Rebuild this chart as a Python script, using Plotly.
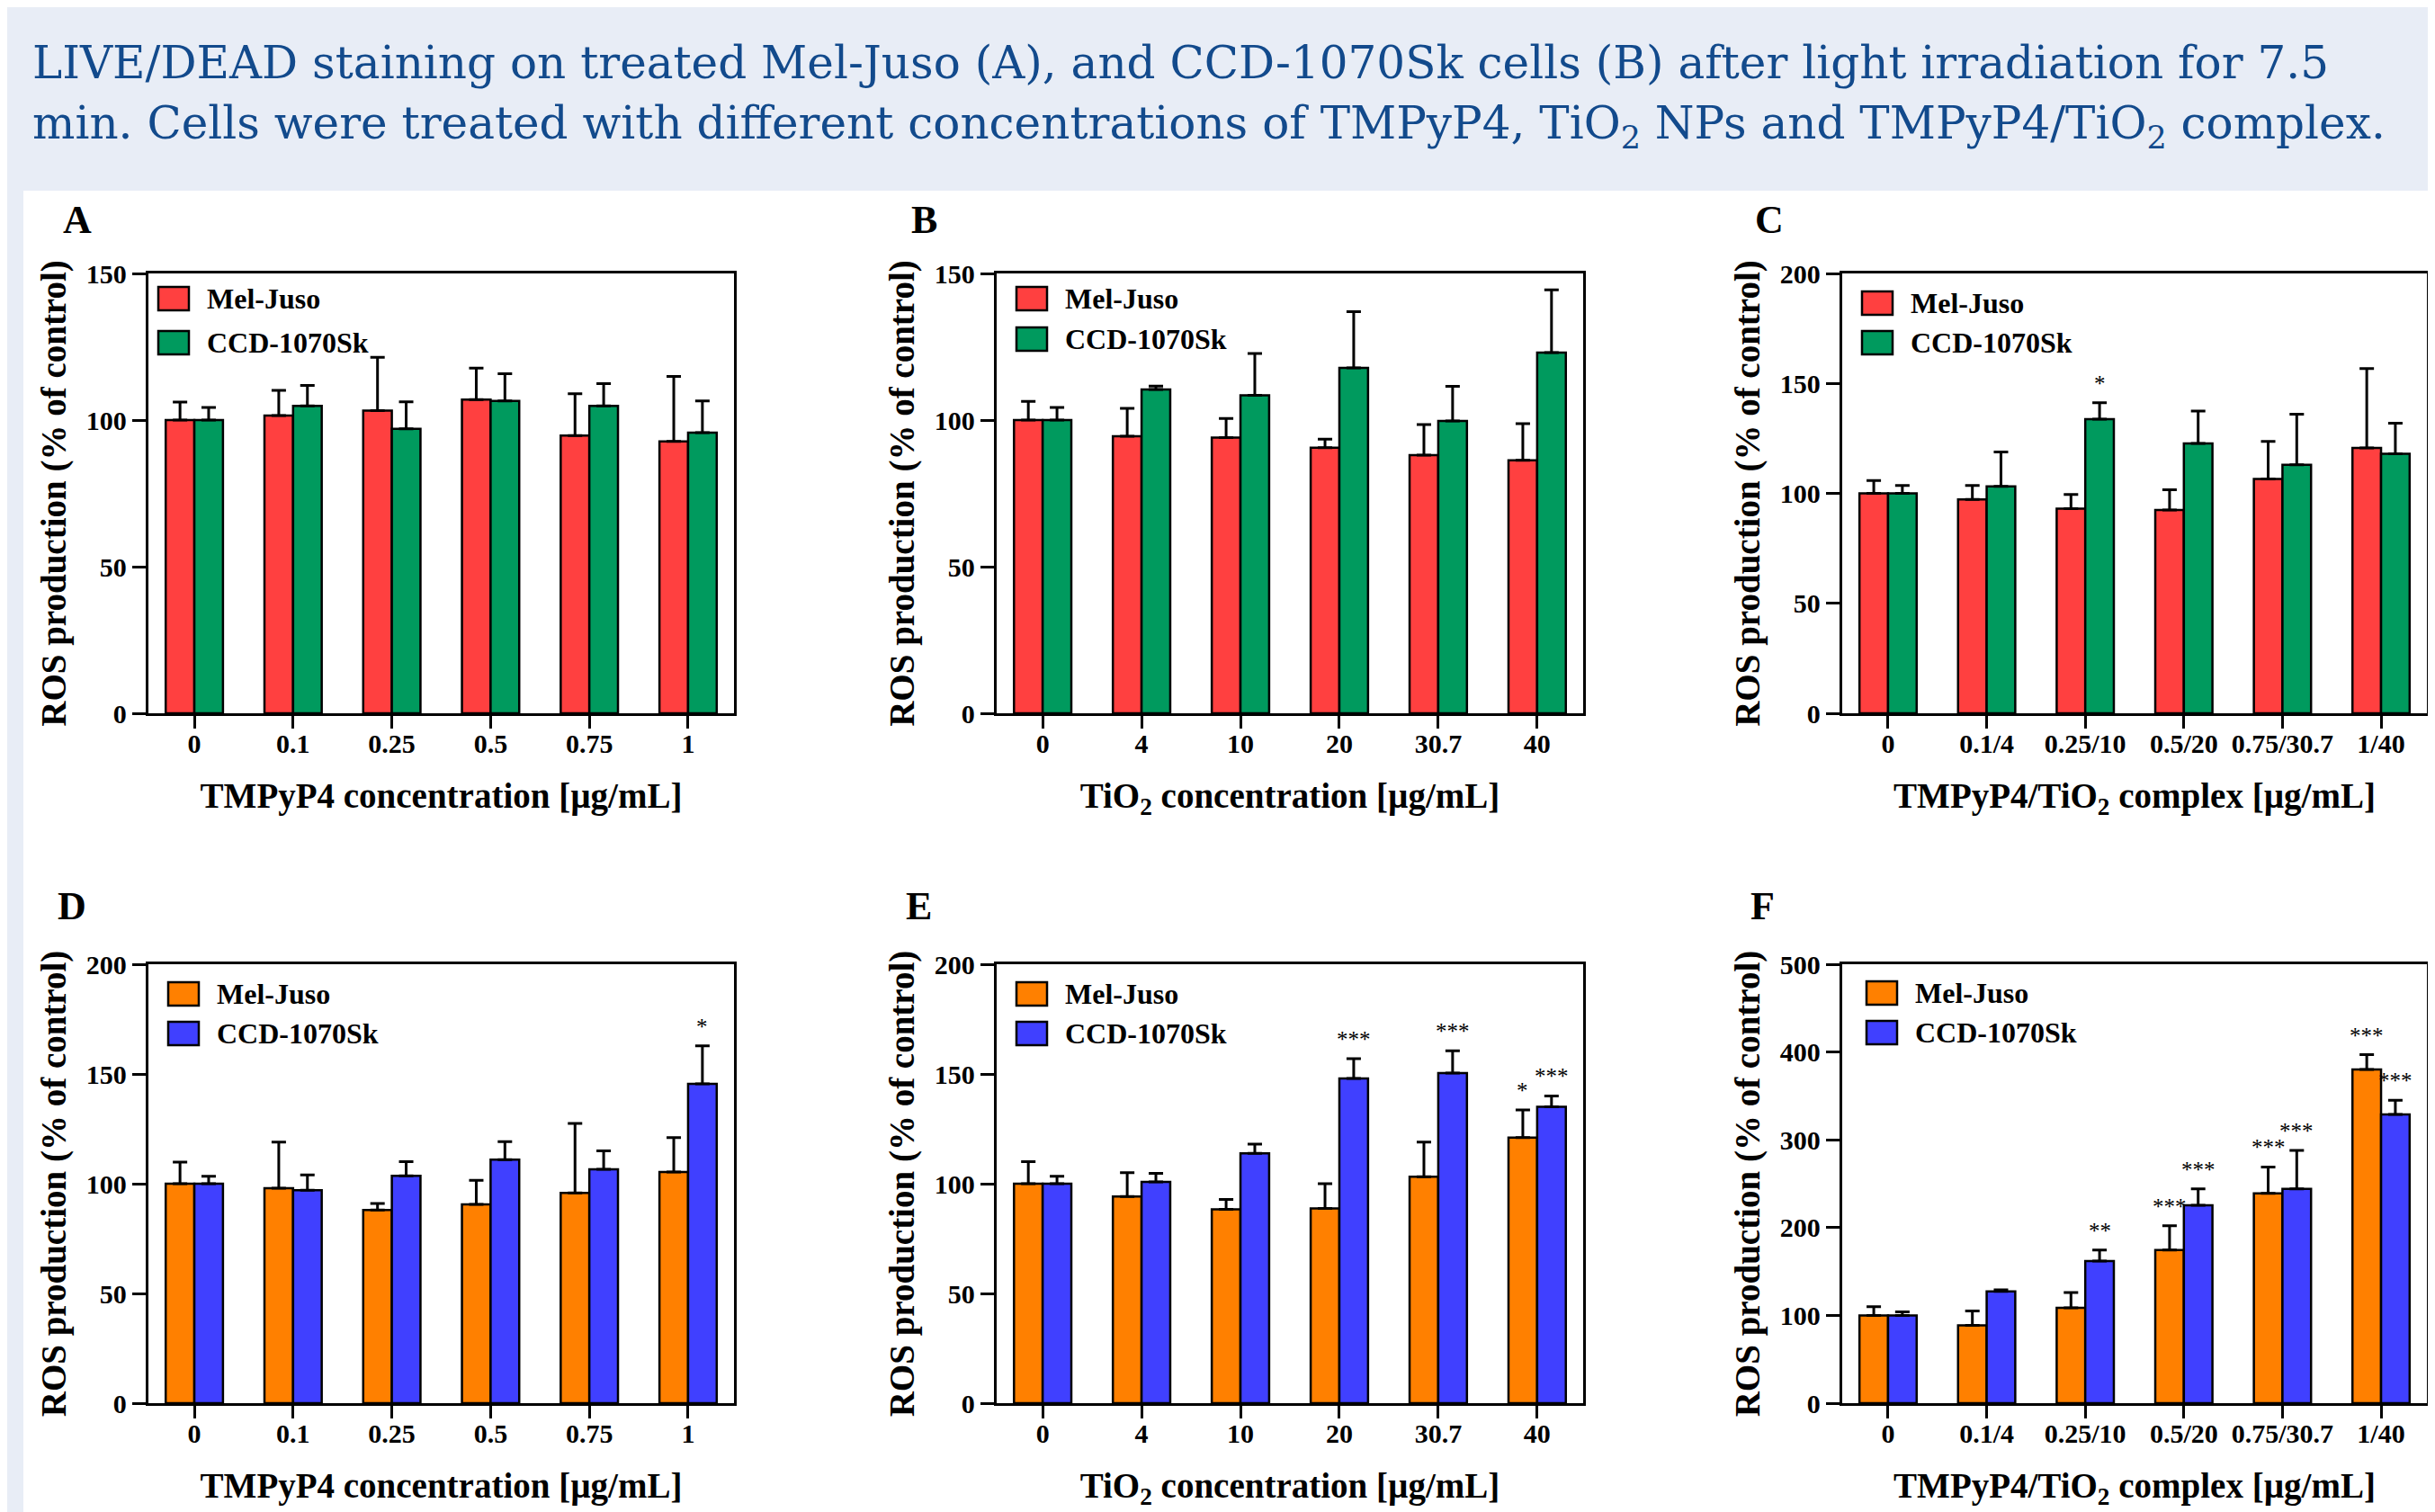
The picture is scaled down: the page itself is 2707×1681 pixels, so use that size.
import plotly.graph_objects as go

W, H = 2707, 1681

# ---------------- data ----------------
cats_tmpyp = ["0", "0.1", "0.25", "0.5", "0.75", "1"]
cats_tio2 = ["0", "4", "10", "20", "30.7", "40"]
cats_complex = ["0", "0.1/4", "0.25/10", "0.5/20", "0.75/30.7", "1/40"]

series_names = ["Mel-Juso", "CCD-1070Sk"]

# Panel A (TMPyP4, dark)
mel_A = [100, 101.5, 103.2, 107.0, 94.7, 92.7]
mel_A_sd = [6.1, 8.6, 18.2, 10.7, 14.3, 22.2]
ccd_A = [100, 104.8, 97.0, 106.5, 104.8, 95.7]
ccd_A_sd = [4.3, 7.0, 9.2, 9.3, 7.6, 10.8]
mel_A_sig = ["", "", "", "", "", ""]
ccd_A_sig = ["", "", "", "", "", ""]

# Panel B (TiO2, dark)
mel_B = [100, 94.5, 94.0, 90.6, 88.0, 86.3]
mel_B_sd = [6.4, 9.5, 6.5, 2.9, 10.5, 12.5]
ccd_B = [100, 110.4, 108.4, 117.8, 99.7, 123.0]
ccd_B_sd = [4.3, 1.2, 14.3, 19.2, 11.8, 21.4]
mel_B_sig = ["", "", "", "", "", ""]
ccd_B_sig = ["", "", "", "", "", ""]

# Panel C (complex, dark)
mel_C = [100, 97.2, 93.0, 92.4, 106.5, 120.7]
mel_C_sd = [5.8, 6.4, 6.5, 9.2, 17.1, 36.0]
ccd_C = [100, 103.2, 133.7, 122.7, 113.0, 118.0]
ccd_C_sd = [3.6, 15.6, 7.5, 14.7, 23.0, 13.9]
mel_C_sig = ["", "", "", "", "", ""]
ccd_C_sig = ["", "", "*", "", "", ""]

# Panel D (TMPyP4, light)
mel_D = [100, 98.0, 88.0, 90.6, 95.8, 105.3]
mel_D_sd = [9.8, 21.0, 3.0, 10.9, 31.7, 15.7]
ccd_D = [100, 97.0, 103.6, 111.0, 106.6, 145.5]
ccd_D_sd = [3.4, 7.0, 6.4, 8.2, 8.4, 17.3]
mel_D_sig = ["", "", "", "", "", ""]
ccd_D_sig = ["", "", "", "", "", "*"]

# Panel E (TiO2, light)
mel_E = [100, 94.2, 88.3, 88.7, 103.2, 121.0]
mel_E_sd = [10.0, 10.8, 4.5, 11.3, 15.8, 12.6]
ccd_E = [100, 100.8, 113.8, 148.0, 150.4, 135.0]
ccd_E_sd = [3.4, 3.9, 4.2, 9.0, 10.2, 5.0]
mel_E_sig = ["", "", "", "", "", "*"]
ccd_E_sig = ["", "", "", "***", "***", "***"]

# Panel F (complex, light)
mel_F = [100, 88.7, 108.5, 174.5, 239.0, 380.0]
mel_F_sd = [10.0, 16.3, 17.5, 27.5, 30.0, 17.0]
ccd_F = [100, 127.4, 161.8, 225.5, 244.0, 329.0]
ccd_F_sd = [4.0, 1.6, 12.7, 18.5, 44.0, 16.0]
mel_F_sig = ["", "", "", "***", "***", "***"]
ccd_F_sig = ["", "", "**", "***", "***", "***"]

y_max = {"A": 150, "B": 150, "C": 200, "D": 200, "E": 200, "F": 500}
y_dtick = {"A": 50, "B": 50, "C": 50, "D": 50, "E": 50, "F": 100}

x_titles = {
    "tmpyp": "TMPyP4 concentration [µg/mL]",
    "tio2": "TiO<sub>2</sub> concentration [µg/mL]",
    "complex": "TMPyP4/TiO<sub>2</sub> complex [µg/mL]",
}
y_title = "ROS production (% of control)"
title_line1 = "LIVE/DEAD staining on treated Mel-Juso (A), and CCD-1070Sk cells (B) after light irradiation for 7.5"
title_line2 = "min. Cells were treated with different concentrations of TMPyP4, TiO<sub>2</sub> NPs and TMPyP4/TiO<sub>2</sub> complex."

# ---------------- styling ----------------
RED, GREEN = "#ff4040", "#009a5e"
ORANGE, BLUE = "#ff8000", "#4040ff"
SERIF = "Liberation Serif"
BG = "#e8edf6"
TITLE_COLOR = "#124a8c"

# panel boxes in pixels (left, top, right, bottom)
boxes = {
    "A": (157, 296, 808, 785),
    "B": (1100, 296, 1752, 785),
    "C": (2040, 296, 2690, 785),
    "D": (157, 1064, 808, 1552),
    "E": (1100, 1064, 1752, 1552),
    "F": (2040, 1064, 2690, 1552),
}
letter_pos = {"A": (78, 236), "B": (1019, 236), "C": (1959, 236),
              "D": (72, 1000), "E": (1013, 1000), "F": (1951, 1000)}
# legend placement: (offset from left axis, offset from top axis, row spacing) in px
legend_off = {"A": (11, 15, 49), "B": (22, 15, 45), "C": (22, 20, 44),
              "D": (22, 20, 44), "E": (22, 20, 44), "F": (27, 19, 44)}

panels = [
    ("A", cats_tmpyp, "tmpyp", (mel_A, mel_A_sd, mel_A_sig), (ccd_A, ccd_A_sd, ccd_A_sig), (RED, GREEN)),
    ("B", cats_tio2, "tio2", (mel_B, mel_B_sd, mel_B_sig), (ccd_B, ccd_B_sd, ccd_B_sig), (RED, GREEN)),
    ("C", cats_complex, "complex", (mel_C, mel_C_sd, mel_C_sig), (ccd_C, ccd_C_sd, ccd_C_sig), (RED, GREEN)),
    ("D", cats_tmpyp, "tmpyp", (mel_D, mel_D_sd, mel_D_sig), (ccd_D, ccd_D_sd, ccd_D_sig), (ORANGE, BLUE)),
    ("E", cats_tio2, "tio2", (mel_E, mel_E_sd, mel_E_sig), (ccd_E, ccd_E_sd, ccd_E_sig), (ORANGE, BLUE)),
    ("F", cats_complex, "complex", (mel_F, mel_F_sd, mel_F_sig), (ccd_F, ccd_F_sd, ccd_F_sig), (ORANGE, BLUE)),
]

BARGAP = 0.42
half_w = (1 - BARGAP) / 4.0


def px(x):
    return x / W


def py(y):
    return 1 - y / H


fig = go.Figure()
shapes = []
annotations = []

# white panel area behind the charts
shapes.append(dict(type="rect", xref="paper", yref="paper", x0=px(18), x1=1, y0=0, y1=py(204),
                   fillcolor="white", line=dict(width=0), layer="below"))

axis_font = dict(family=SERIF, size=30, color="black", weight="bold")
title_font = dict(family=SERIF, size=39, color="black", weight="bold")

for i, (key, cats, xkind, mel, ccd, cols) in enumerate(panels):
    n = i + 1
    xa = "x" if n == 1 else f"x{n}"
    ya = "y" if n == 1 else f"y{n}"
    l, t, r, b = boxes[key]
    for (vals, sd, sig), col, name, off in ((mel, cols[0], series_names[0], -half_w),
                                            (ccd, cols[1], series_names[1], half_w)):
        fig.add_trace(go.Bar(
            x=cats, y=vals, name=name, xaxis=xa, yaxis=ya, showlegend=False,
            textposition="none", hoverinfo="x+y+name",
            marker=dict(color=col, line=dict(color="black", width=2.5)),
            error_y=dict(type="data", symmetric=False, array=sd, arrayminus=[0] * len(sd),
                         color="black", thickness=3, width=8),
        ))
        for j, s in enumerate(sig):
            if s:
                annotations.append(dict(xref=xa, yref=ya, x=j + off, y=vals[j] + sd[j],
                                        text=s, showarrow=False, yanchor="bottom", xanchor="center",
                                        yshift=6, font=dict(family=SERIF, size=25, color="black")))
    xkey = "xaxis" if n == 1 else f"xaxis{n}"
    ykey = "yaxis" if n == 1 else f"yaxis{n}"
    fig.layout[xkey] = dict(
        domain=[px(l), px(r)], anchor=ya, type="category", range=[-0.465, 5.465],
        showline=True, mirror=True, linecolor="black", linewidth=3.3,
        ticks="outside", ticklen=14, tickwidth=3, tickcolor="black",
        tickfont=axis_font, showgrid=False, zeroline=False, ticklabelstandoff=-9,
        automargin=True,
        title=dict(text=x_titles[xkind], font=title_font, standoff=29),
    )
    fig.layout[ykey] = dict(
        domain=[py(b), py(t)], anchor=xa, range=[0, y_max[key]], dtick=y_dtick[key], tick0=0,
        showline=True, mirror=True, linecolor="black", linewidth=3.3,
        ticks="outside", ticklen=15, tickwidth=3, tickcolor="black",
        tickfont=axis_font, showgrid=False, zeroline=False,
        automargin=True,
        title=dict(text=y_title, font=title_font, standoff=11),
    )
    # panel letter
    lx, ly = letter_pos[key]
    annotations.append(dict(xref="paper", yref="paper", x=px(lx), y=py(ly), text=key,
                            showarrow=False, xanchor="center", yanchor="middle",
                            font=dict(family=SERIF, size=44, color="black", weight="bold")))
    # legend
    dx, dy, dsp = legend_off[key]
    sx = l + dx
    for k, (name, col) in enumerate(zip(series_names, cols)):
        sy = t + dy + k * dsp
        shapes.append(dict(type="rect", xref="paper", yref="paper",
                           x0=px(sx), x1=px(sx + 34), y0=py(sy + 26), y1=py(sy),
                           fillcolor=col, line=dict(color="black", width=2.5)))
        annotations.append(dict(xref="paper", yref="paper", x=px(sx + 52), y=py(sy + 13),
                                text=name, showarrow=False, xanchor="left", yanchor="middle",
                                font=dict(family=SERIF, size=32, color="black", weight="bold")))

# figure caption / title
annotations.append(dict(xref="paper", yref="paper", x=px(26), y=py(62), text=title_line1,
                        showarrow=False, xanchor="left", yanchor="middle",
                        font=dict(family="DejaVu Serif", size=50, color=TITLE_COLOR)))
annotations.append(dict(xref="paper", yref="paper", x=px(26), y=py(133), text=title_line2,
                        showarrow=False, xanchor="left", yanchor="middle",
                        font=dict(family="DejaVu Serif", size=50, color=TITLE_COLOR)))

fig.update_layout(
    width=W, height=H, autosize=False,
    margin=dict(l=0, r=0, t=0, b=0, autoexpand=False),
    paper_bgcolor=BG, plot_bgcolor="white",
    barmode="group", bargap=BARGAP, bargroupgap=0,
    shapes=shapes, annotations=annotations, showlegend=False,
)

fig.write_html("out.html")
